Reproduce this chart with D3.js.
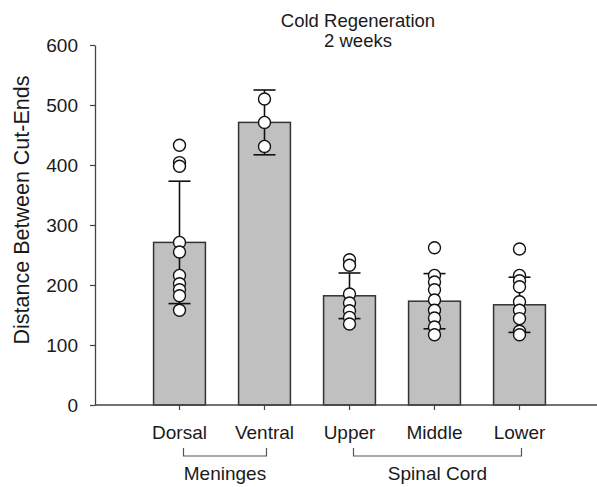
<!DOCTYPE html>
<html>
<head>
<meta charset="utf-8">
<script src="https://cdn.jsdelivr.net/npm/d3@7"></script>
<style>
  html, body { margin: 0; padding: 0; background: #fff; }
  svg { display: block; font-family: "Liberation Sans", Arial, sans-serif; }
</style>
</head>
<body>
<svg id="chart" width="597" height="487"></svg>
<script>
// ---- Data ----
const categories = ["Dorsal", "Ventral", "Upper", "Middle", "Lower"];
const means = [271, 471, 182, 173, 167];
const sds = [102, 54, 38, 46, 46];
const points = [
  [433, 404, 398, 271, 255, 216, 202, 192, 182, 158],
  [510, 471, 431],
  [242, 233, 185, 170, 157, 146, 135],
  [262, 216, 205, 192, 175, 158, 145, 130, 117],
  [260, 216, 207, 197, 172, 158, 144, 123, 117]
];
const yTicks = [0, 100, 200, 300, 400, 500, 600];
const groups = [
  { label: "Meninges", from: "Dorsal", to: "Ventral" },
  { label: "Spinal Cord", from: "Upper", to: "Lower" }
];
const titleLines = ["Cold Regeneration", "2 weeks"];
const yLabel = "Distance Between Cut-Ends";

// ---- Layout ----
const svg = d3.select("#chart");
const plotLeft = 95, plotRight = 597, plotTop = 45, plotBottom = 405;
const axisColor = "#444";
const textColor = "#1a1a1a";

const y = d3.scaleLinear().domain([0, 600]).range([plotBottom, plotTop]);
const x = d3.scaleBand().domain(categories)
  .range([plotLeft + 42, plotLeft + 42 + 425])
  .paddingInner(0.39).paddingOuter(0.195);
const cx = c => x(c) + x.bandwidth() / 2;

// Bars
svg.append("g").selectAll("rect").data(categories).join("rect")
  .attr("x", d => x(d))
  .attr("y", (d, i) => y(means[i]))
  .attr("width", x.bandwidth())
  .attr("height", (d, i) => y(0) - y(means[i]))
  .attr("fill", "#c0c0c0")
  .attr("stroke", "#333")
  .attr("stroke-width", 1.5);

// Error bars
const eg = svg.append("g").attr("stroke", "#111").attr("stroke-width", 1.6);
categories.forEach((c, i) => {
  const hi = y(means[i] + sds[i]), lo = y(means[i] - sds[i]);
  eg.append("line").attr("x1", cx(c)).attr("x2", cx(c)).attr("y1", hi).attr("y2", lo);
  eg.append("line").attr("x1", cx(c) - 11).attr("x2", cx(c) + 11).attr("y1", hi).attr("y2", hi);
  eg.append("line").attr("x1", cx(c) - 11).attr("x2", cx(c) + 11).attr("y1", lo).attr("y2", lo);
});

// Points
const pts = [];
categories.forEach((c, i) => points[i].forEach(v => pts.push({ c, v })));
svg.append("g").selectAll("circle").data(pts).join("circle")
  .attr("cx", d => cx(d.c))
  .attr("cy", d => y(d.v))
  .attr("r", 6)
  .attr("fill", "#fff")
  .attr("stroke", "#111")
  .attr("stroke-width", 1.4);

// Y axis
const yAxis = svg.append("g").attr("transform", `translate(${plotLeft},0)`)
  .call(d3.axisLeft(y).tickValues(yTicks).tickSize(5).tickSizeOuter(0).tickPadding(12));
yAxis.select(".domain").attr("stroke", axisColor).attr("stroke-width", 1.3);
yAxis.selectAll(".tick line").attr("stroke", axisColor).attr("stroke-width", 1.2);
yAxis.selectAll(".tick text").attr("font-size", 19).attr("fill", textColor)
  .attr("font-family", "Liberation Sans, Arial, sans-serif");

// X axis
const xAxisG = svg.append("g").attr("transform", `translate(0,${plotBottom})`);
xAxisG.append("line").attr("x1", plotLeft).attr("x2", plotRight).attr("y1", 0).attr("y2", 0)
  .attr("stroke", axisColor).attr("stroke-width", 1.3);
xAxisG.selectAll("line.tk").data(categories).join("line").attr("class", "tk")
  .attr("x1", d => cx(d)).attr("x2", d => cx(d)).attr("y1", 0).attr("y2", 5)
  .attr("stroke", axisColor).attr("stroke-width", 1.2);
xAxisG.selectAll("text").data(categories).join("text")
  .attr("x", d => cx(d)).attr("y", 34)
  .attr("text-anchor", "middle").attr("font-size", 19).attr("fill", textColor)
  .text(d => d);

// Group brackets
const bg = svg.append("g");
groups.forEach(g => {
  const x1 = cx(g.from) + 4, x2 = cx(g.to) + 2, by = 456;
  bg.append("path")
    .attr("d", `M${x1},${by - 8}V${by}H${x2}V${by - 8}`)
    .attr("fill", "none").attr("stroke", "#555").attr("stroke-width", 1.2);
  bg.append("text").attr("x", (x1 + x2) / 2).attr("y", 480)
    .attr("text-anchor", "middle").attr("font-size", 19).attr("fill", textColor)
    .text(g.label);
});

// Title
svg.append("g").selectAll("text").data(titleLines).join("text")
  .attr("x", 358).attr("y", (d, i) => 27 + i * 20)
  .attr("text-anchor", "middle").attr("font-size", 18.5).attr("fill", textColor)
  .text(d => d);

// Y label
svg.append("text")
  .attr("transform", `translate(29,${(plotTop + plotBottom) / 2 - 15}) rotate(-90)`)
  .attr("text-anchor", "middle").attr("font-size", 21.5).attr("fill", textColor)
  .text(yLabel);
</script>
</body>
</html>
